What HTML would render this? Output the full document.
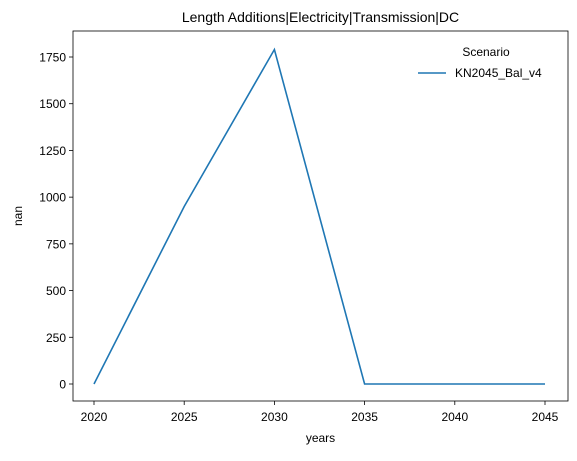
<!DOCTYPE html>
<html><head><meta charset="utf-8"><style>
body{margin:0;background:#fff;font-family:"Liberation Sans","DejaVu Sans",sans-serif}
svg text{font-family:"Liberation Sans","DejaVu Sans",sans-serif;fill:#000}
</style></head><body>
<svg width="577" height="456" xmlns="http://www.w3.org/2000/svg">
<g id="g"></g>
</svg>
<script>
const years=[2020,2025,2030,2035,2040,2045];
const values=[0,950,1790,0,0,0];
const yTicks=[0,250,500,750,1000,1250,1500,1750];
const xTicks=[2020,2025,2030,2035,2040,2045];
const L=73,R=568,T=31,B=401;
const x=v=>94+(v-2020)*(545-94)/25;
const y=v=>384-v*(327/1750);
const g=document.getElementById('g');
const NS='http://www.w3.org/2000/svg';
function mk(t,a,txt){const e=document.createElementNS(NS,t);for(const k in a)e.setAttribute(k,a[k]);if(txt!==undefined)e.textContent=txt;g.appendChild(e);return e;}
yTicks.forEach(v=>{
 const l=mk('line',{x1:L-4,x2:L,y1:y(v),y2:y(v),stroke:'#000','stroke-width':0.8});
 
 
 const t=mk('text',{x:L-7,y:y(v)+4.5,'text-anchor':'end','font-size':12},v);
 
 
});
xTicks.forEach(v=>{
 const l=mk('line',{x1:x(v),x2:x(v),y1:B,y2:B+4,stroke:'#000','stroke-width':0.8});
 
 
 const t=mk('text',{x:x(v),y:B+20,'text-anchor':'middle','font-size':12},v);
 
 
});
const p=mk('polyline',{points:years.map((yr,i)=>x(yr)+','+y(values[i])).join(' '),fill:'none',stroke:'#1f77b4','stroke-width':1.6});


const ax=mk('rect',{x:L,y:T,width:R-L,height:B-T,fill:'none',stroke:'#000','stroke-width':0.8});


const ti=mk('text',{x:(L+R)/2,y:22,'text-anchor':'middle','font-size':14},'Length Additions|Electricity|Transmission|DC');


const xl=mk('text',{x:(L+R)/2,y:442,'text-anchor':'middle','font-size':12},'years');


const yl=mk('text',{x:22,y:(T+B)/2,'text-anchor':'middle','font-size':12,transform:'rotate(-90 22 '+((T+B)/2)+')'},'nan');


const lt=mk('text',{x:486,y:56,'text-anchor':'middle','font-size':12},'Scenario');


const ll=mk('line',{x1:418,x2:446,y1:73,y2:73,stroke:'#1f77b4','stroke-width':1.6});


const lx=mk('text',{x:455,y:77,'font-size':12},'KN2045_Bal_v4');


</script>
</body></html>
